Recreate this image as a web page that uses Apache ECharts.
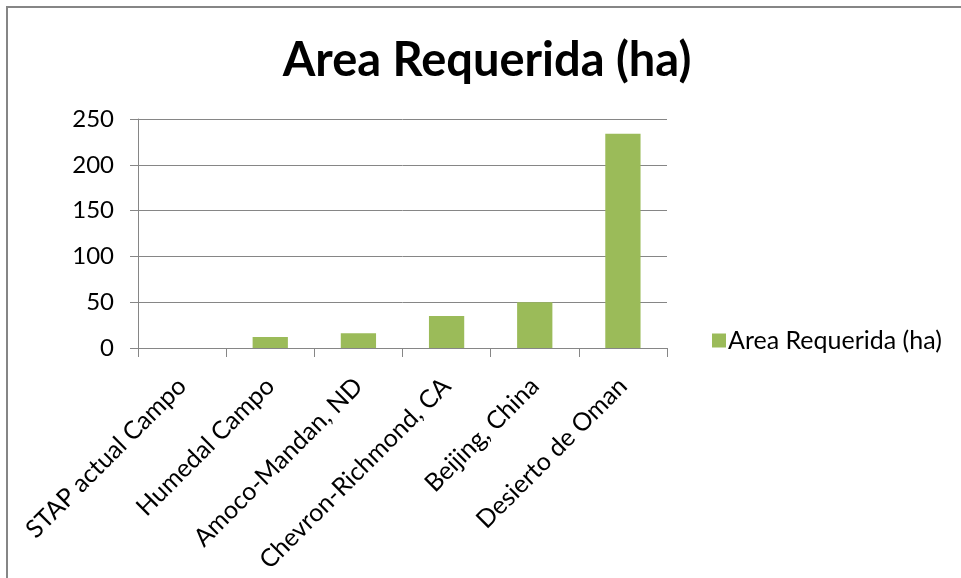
<!DOCTYPE html>
<html>
<head>
<meta charset="utf-8">
<script src="https://cdn.jsdelivr.net/npm/echarts@6/dist/echarts.min.js"></script>
<style>
html,body{margin:0;padding:0;background:#fff;}
#chart{width:961px;height:578px;}
</style>
</head>
<body>
<div id="chart"></div>
<script>
const titleText = 'Area Requerida (ha)';
const seriesName = 'Area Requerida (ha)';
const categories = ['STAP actual Campo', 'Humedal Campo', 'Amoco-Mandan, ND', 'Chevron-Richmond, CA', 'Beijing, China', 'Desierto de Oman'];
const areaValues = [0, 12, 16, 35, 50, 234];
const yTicks = [0, 50, 100, 150, 200, 250];

const FONT = 'Lato';
const chart = echarts.init(document.getElementById('chart'));
chart.setOption({
  animation: false,
  backgroundColor: '#ffffff',
  graphic: [{
    type: 'rect',
    shape: {x: 7, y: 7, width: 1000, height: 620},
    style: {fill: 'none', stroke: '#868686', lineWidth: 2},
    silent: true
  }],
  title: {
    text: titleText,
    left: 482, top: 32, textAlign: 'center',
    textStyle: {fontFamily: FONT, fontWeight: 'bold', fontSize: 47, color: '#000'}
  },
  legend: {
    data: [seriesName],
    left: 707, top: 323,
    icon: 'rect', itemWidth: 14, itemHeight: 14, itemGap: 10,
    textStyle: {fontFamily: FONT, fontSize: 25, color: '#000', padding: [0,0,0,-3]}
  },
  grid: {left: 138, right: 294, top: 119, bottom: 230},
  xAxis: {
    type: 'category',
    data: categories,
    boundaryGap: true,
    axisLine: {lineStyle: {color: '#868686', width: 1}},
    axisTick: {show: true, alignWithLabel: false, length: 9, lineStyle: {color: '#868686'}},
    axisLabel: {rotate: 45, margin: 34, interval: 0, fontFamily: FONT, fontSize: 25, color: '#000'}
  },
  yAxis: {
    type: 'value',
    min: 0, max: 250, interval: 50,
    axisLine: {show: true, lineStyle: {color: '#868686', width: 1}},
    axisTick: {show: true, length: 8, lineStyle: {color: '#868686'}},
    splitLine: {lineStyle: {color: '#868686', width: 1}},
    axisLabel: {margin: 24, fontFamily: FONT, fontSize: 24, color: '#000',
      formatter: v => yTicks.includes(v) ? String(v) : ''}
  },
  series: [{
    name: seriesName,
    type: 'bar',
    data: areaValues,
    barWidth: '40%',
    itemStyle: {color: '#9BBB59'}
  }]
});
</script>
</body>
</html>
